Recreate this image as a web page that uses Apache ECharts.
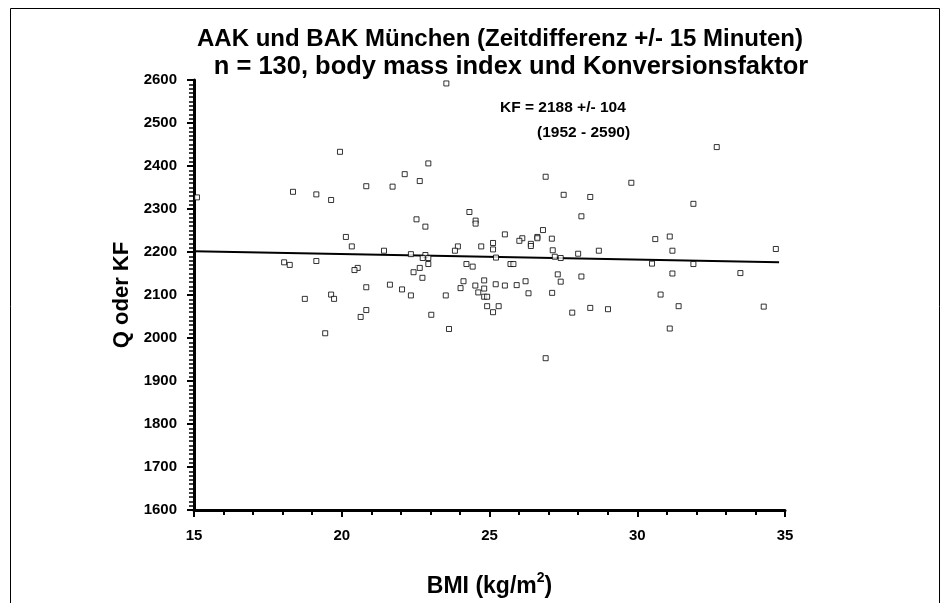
<!DOCTYPE html>
<html>
<head>
<meta charset="utf-8">
<script src="https://cdn.jsdelivr.net/npm/echarts@6/dist/echarts.min.js"></script>
<style>
html,body{margin:0;padding:0;background:#fff;}
#chart{width:951px;height:603px;}
</style>
</head>
<body>
<div id="chart"></div>
<script>
// ---- data ----
var bmi = [
  15.1, 19.94, 18.35, 19.14, 19.64, 20.83, 21.72,
  23.54, 22.93, 22.13, 22.64, 26.9, 27.51, 28.41,
  32.69, 29.8, 31.9,
  20.14, 20.34, 21.43, 18.05, 18.24, 19.14, 20.54, 20.43, 20.83, 21.63, 18.75, 19.64, 19.74, 20.83, 20.64, 19.44,
  24.32, 24.53, 24.53, 22.53, 22.83, 28.11, 25.52, 26.81, 26.62, 26.62, 26.11, 26.01, 26.4, 26.4, 27.11, 25.12, 25.12,
  24.72, 23.93, 23.83, 27.14, 28.7, 28.0, 22.34, 22.83, 22.74, 22.93, 22.93, 22.64, 22.43, 22.73, 22.04, 22.34, 23.52,
  23.03, 23.63, 25.22, 24.22, 24.43, 25.71, 25.81, 27.21, 27.41, 27.31, 27.41, 28.11, 24.12, 24.02, 24.52, 24.62,
  24.82, 24.82, 25.21, 25.52, 25.92, 26.22, 26.32, 27.12, 24.82, 24.92, 24.92, 25.31, 25.12, 27.8, 28.41, 26.9,
  30.61, 31.1, 31.19, 34.69, 30.5, 31.9, 31.19, 33.49, 30.79, 31.4, 29.01, 34.28, 31.1
];
var kf = [
  2327, 2433, 2340, 2334, 2321, 2353, 2352,
  2592, 2406, 2381, 2365, 2375, 2333, 2328,
  2444, 2361, 2312,
  2235, 2213, 2203, 2176, 2170, 2179, 2163, 2158, 2118, 2124, 2091, 2101, 2091, 2065, 2049, 2011,
  2293, 2273, 2266, 2276, 2259, 2283, 2241, 2251, 2235, 2232, 2232, 2226, 2219, 2214, 2231, 2221, 2206,
  2213, 2213, 2203, 2204, 2203, 2196, 2195, 2193, 2186, 2186, 2172, 2163, 2153, 2140, 2113, 2099, 2099,
  2054, 2021, 2187, 2172, 2166, 2172, 2172, 2189, 2186, 2148, 2131, 2143, 2132, 2116, 2122, 2106,
  2134, 2115, 2125, 2122, 2123, 2132, 2104, 2105, 2096, 2096, 2074, 2074, 2060, 2059, 2070, 1953,
  2230, 2236, 2203, 2207, 2173, 2172, 2150, 2151, 2101, 2074, 2067, 2073, 2022
];
var regBmi = [15, 34.8];
var regKf = [2202, 2176];
var xTicks = [15, 20, 25, 30, 35];
var yTicks = [1600, 1700, 1800, 1900, 2000, 2100, 2200, 2300, 2400, 2500, 2600];
var titleLines = ['AAK und BAK München (Zeitdifferenz +/- 15 Minuten)', 'n = 130, body mass index und Konversionsfaktor'];
var noteLines = ['KF = 2188 +/- 104', '(1952 - 2590)'];

var points = bmi.map(function (b, i) { return [b, kf[i]]; });
var regLine = regBmi.map(function (b, i) { return [b, regKf[i]]; });

var FONT = '"Liberation Sans", Arial, sans-serif';
var chart = echarts.init(document.getElementById('chart'), null, {renderer: 'canvas'});
chart.setOption({
  animation: false,
  backgroundColor: '#fff',
  title: [
    {text: titleLines[0], left: 495, top: 22, textAlign: 'center',
     textStyle: {fontFamily: FONT, fontWeight: 'bold', fontSize: 24, color: '#000'}},
    {text: titleLines[1], left: 506, top: 49, textAlign: 'center',
     textStyle: {fontFamily: FONT, fontWeight: 'bold', fontSize: 25.5, color: '#000'}}
  ],
  grid: {left: 194, right: 166, top: 80, bottom: 93},
  xAxis: {
    type: 'value', min: xTicks[0], max: xTicks[xTicks.length - 1], interval: 5,
    name: 'BMI (kg/m{sup|2})', nameLocation: 'middle', nameGap: 61,
    nameTextStyle: {fontFamily: FONT, fontWeight: 'bold', fontSize: 23, color: '#000',
      rich: {sup: {fontFamily: FONT, fontWeight: 'bold', fontSize: 14, color: '#000', padding: [0, 0, 17, 0]}}},
    axisLine: {lineStyle: {color: '#000', width: 3}},
    axisTick: {inside: false, length: 7, lineStyle: {color: '#000', width: 2}},
    minorTick: {show: true, splitNumber: 5, length: 5, lineStyle: {color: '#000', width: 2}},
    axisLabel: {fontFamily: FONT, fontWeight: 'bold', fontSize: 15, color: '#000', margin: 18,
      formatter: function (v) { return String(v); }},
    splitLine: {show: false}, minorSplitLine: {show: false}
  },
  yAxis: {
    type: 'value', min: yTicks[0], max: yTicks[yTicks.length - 1], interval: 100,
    name: 'Q oder KF', nameLocation: 'middle', nameGap: 60, nameRotate: 90,
    nameTextStyle: {fontFamily: FONT, fontWeight: 'bold', fontSize: 22, color: '#000'},
    axisLine: {show: true, lineStyle: {color: '#000', width: 3}},
    axisTick: {show: true, inside: false, length: 7, lineStyle: {color: '#000', width: 2}},
    minorTick: {show: true, splitNumber: 10, length: 5, lineStyle: {color: '#000', width: 1.5}},
    axisLabel: {fontFamily: FONT, fontWeight: 'bold', fontSize: 15, color: '#000', margin: 17,
      formatter: function (v) { return String(v); }},
    splitLine: {show: false}, minorSplitLine: {show: false}
  },
  series: [
    {
      type: 'line', data: regLine, symbol: 'none', silent: true,
      lineStyle: {color: '#000', width: 2}, z: 1
    },
    {
      type: 'scatter', data: points, symbol: 'rect', symbolSize: 5,
      itemStyle: {color: '#fff', borderColor: '#000', borderWidth: 1}, z: 2
    }
  ],
  graphic: [
    {type: 'rect', shape: {x: 10.5, y: 8.5, width: 929, height: 620}, style: {fill: 'none', stroke: '#000', lineWidth: 1}, silent: true},
    {type: 'text', left: 500, top: 100, style: {text: noteLines[0], font: 'bold 15.5px ' + FONT, fill: '#000'}},
    {type: 'text', left: 537, top: 125, style: {text: noteLines[1], font: 'bold 15.5px ' + FONT, fill: '#000'}}
  ]
});
</script>
</body>
</html>
